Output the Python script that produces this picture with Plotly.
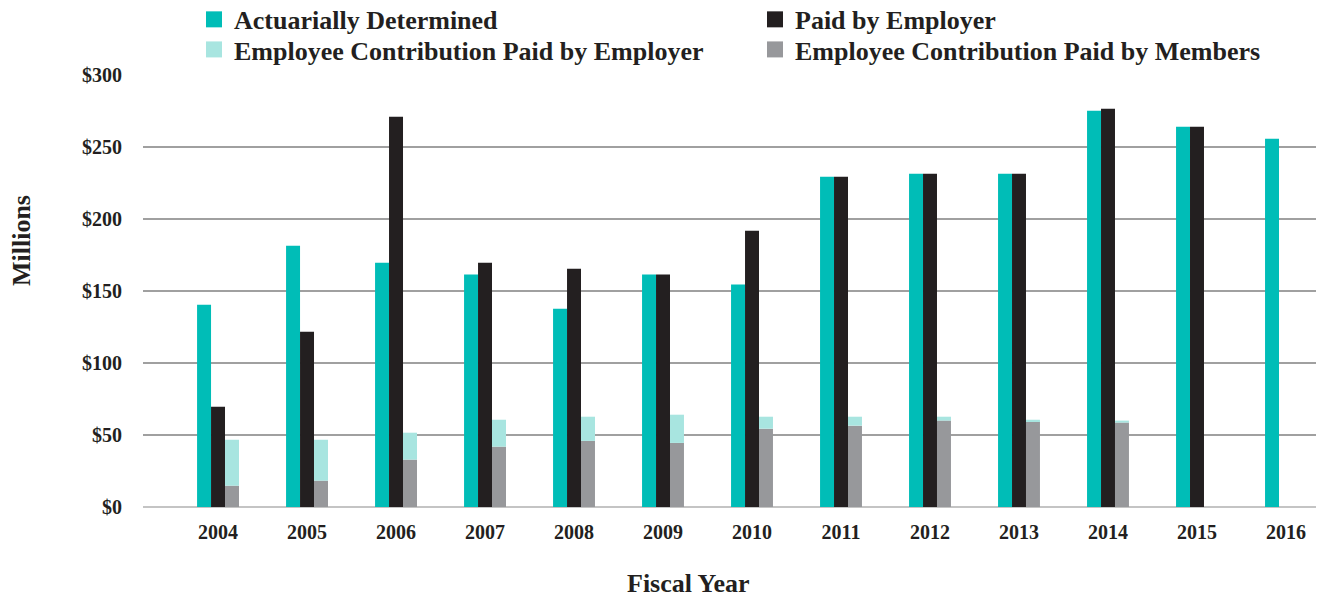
import plotly.graph_objects as go

years = [2004, 2005, 2006, 2007, 2008, 2009, 2010, 2011, 2012, 2013, 2014, 2015, 2016]
year_labels = [str(y) for y in years]
actuarially_determined = [140.5, 181.5, 169.7, 161.4, 137.7, 161.4, 154.5, 229.4, 231.5, 231.5, 275.2, 264.0, 255.8]
paid_by_employer = [69.6, 121.7, 271.0, 169.7, 165.5, 161.4, 191.9, 229.4, 231.5, 231.5, 276.6, 264.0, None]
ee_paid_by_members = [14.8, 18.3, 32.9, 41.9, 45.9, 44.5, 54.4, 56.5, 60.0, 59.3, 58.6, None, None]
ee_paid_by_employer = [31.9, 28.4, 18.7, 18.7, 16.8, 19.6, 8.3, 6.2, 2.7, 1.3, 1.4, None, None]
y_ticks = [0, 50, 100, 150, 200, 250, 300]
y_tick_labels = ["$" + str(v) for v in y_ticks]

C_TEAL = "#00BDB7"
C_BLACK = "#231F20"
C_LIGHT = "#A8E5E0"
C_GRAY = "#97989B"

W = 0.157
FONT = "Liberation Serif"

fig = go.Figure()
fig.add_trace(go.Bar(x=years, y=actuarially_determined, width=W, offset=-1.5 * W,
                     marker=dict(color=C_TEAL, line=dict(width=0)), showlegend=False))
fig.add_trace(go.Bar(x=years, y=paid_by_employer, width=W, offset=-0.5 * W,
                     marker=dict(color=C_BLACK, line=dict(width=0)), showlegend=False))
fig.add_trace(go.Bar(x=years, y=ee_paid_by_members, width=W, offset=0.5 * W,
                     marker=dict(color=C_GRAY, line=dict(width=0)), showlegend=False))
fig.add_trace(go.Bar(x=years, y=ee_paid_by_employer, base=ee_paid_by_members, width=W, offset=0.5 * W,
                     marker=dict(color=C_LIGHT, line=dict(width=0)), showlegend=False))

legend_items = [
    ("Actuarially Determined", C_TEAL, "legend"),
    ("Paid by Employer", C_BLACK, "legend"),
    ("Employee Contribution Paid by Employer", C_LIGHT, "legend2"),
    ("Employee Contribution Paid by Members", C_GRAY, "legend2"),
]
for name, col, lg in legend_items:
    fig.add_trace(go.Scatter(x=[None], y=[None], mode="markers", name=name, legend=lg,
                             marker=dict(symbol="square", size=18, color=col, line=dict(width=0))))

legend_common = dict(orientation="h", xanchor="left", yanchor="top",
                     entrywidth=516, entrywidthmode="pixels", itemsizing="trace",
                     font=dict(size=26, family=FONT, weight="bold", color="#231F20"),
                     tracegroupgap=0, bgcolor="rgba(0,0,0,0)")

fig.update_layout(
    width=1316, height=591,
    margin=dict(l=135, r=0, t=67, b=92, autoexpand=False),
    paper_bgcolor="white", plot_bgcolor="white",
    barmode="overlay",
    font=dict(family=FONT, color="#231F20", weight="bold"),
    legend=dict(x=0.0432, y=1.183, **legend_common),
    legend2=dict(x=0.0432, y=1.1134, **legend_common),
    xaxis=dict(range=[years[0] - 0.843, years[-1] + 0.427], tickmode="array",
               tickvals=years, ticktext=year_labels, showgrid=False, zeroline=False,
               showline=False, ticks="", ticklabelstandoff=11,
               tickfont=dict(size=20, family=FONT, weight="bold")),
    yaxis=dict(range=[0, 300], tickmode="array", tickvals=y_ticks, ticktext=y_tick_labels,
               showgrid=True, gridcolor="#A0A0A0", gridwidth=1.5,
               zeroline=True, zerolinecolor="#C4C4C4", zerolinewidth=2,
               showline=False, ticks="", ticklabelstandoff=20,
               tickfont=dict(size=20, family=FONT, weight="bold")),
    annotations=[
        dict(text="Fiscal Year", xref="paper", yref="paper", x=0.4615, y=-0.178,
             xanchor="center", yanchor="middle", showarrow=False,
             font=dict(size=26, family=FONT, weight="bold", color="#231F20")),
        dict(text="Millions", xref="paper", yref="paper", x=-0.1033, y=0.6157,
             xanchor="center", yanchor="middle", showarrow=False, textangle=-90,
             font=dict(size=26, family=FONT, weight="bold", color="#231F20")),
    ],
)

fig.write_html("out.html")
